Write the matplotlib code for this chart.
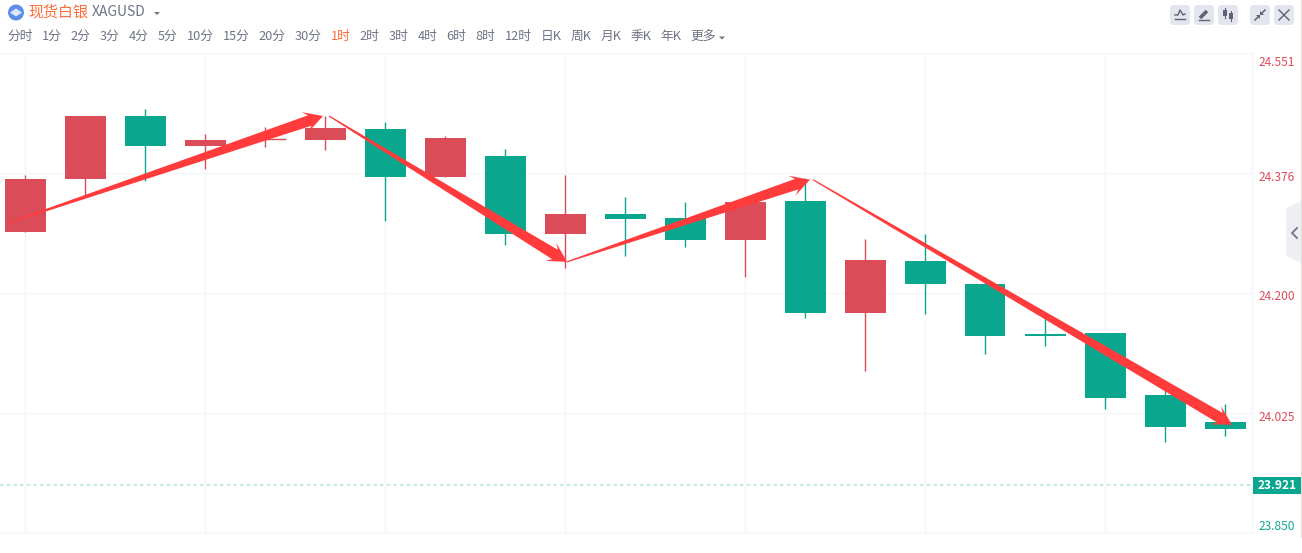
import numpy as np
import matplotlib
matplotlib.use("Agg")
import matplotlib.pyplot as plt
from matplotlib.patches import Polygon, Rectangle, Circle, FancyBboxPatch
from matplotlib.transforms import ScaledTranslation, IdentityTransform

plt.rcParams['font.family'] = ['Noto Sans CJK SC', 'DejaVu Sans']

# ---------- data ----------
opens  = [24.290, 24.367, 24.459, 24.415, 24.425, 24.424, 24.440, 24.370, 24.401, 24.287, 24.316,
          24.310, 24.278, 24.335, 24.171, 24.247, 24.214, 24.141, 24.142, 24.052, 24.012]
closes = [24.367, 24.459, 24.415, 24.424, 24.424, 24.441, 24.370, 24.427, 24.287, 24.316, 24.309,
          24.278, 24.333, 24.171, 24.249, 24.214, 24.138, 24.138, 24.047, 24.005, 24.002]
highs  = [24.373, 24.459, 24.469, 24.433, 24.443, 24.459, 24.450, 24.430, 24.411, 24.373, 24.341,
          24.333, 24.341, 24.368, 24.279, 24.287, 24.224, 24.164, 24.142, 24.059, 24.038]
lows   = [24.290, 24.341, 24.364, 24.382, 24.414, 24.409, 24.306, 24.370, 24.271, 24.237, 24.255,
          24.268, 24.224, 24.164, 24.087, 24.170, 24.111, 24.123, 24.031, 23.983, 23.992]
doji_up = [4]  # thin candle drawn in the rising colour

price_ticks = [24.551, 24.376, 24.200, 24.025, 23.850]
price_labels = ['24.551', '24.376', '24.200', '24.025', '23.850']
label_shift_px = [-8, -3, -2, -3, 8]
last_price = 23.921
grid_candles = [0, 3, 6, 9, 12, 15, 18]

# arrows: (start index, start price, end index, end price)
arrows = [(-0.27, 24.303, 4.967, 24.459),
          (5.067, 24.459, 9.033, 24.246),
          (9.033, 24.246, 13.083, 24.366),
          (13.133, 24.366, 20.117, 24.008)]

title_cn = '现货白银'
title_code = 'XAGUSD'
tabs = ['分时', '1分', '2分', '3分', '4分', '5分', '10分', '15分', '20分', '30分', '1时', '2时', '3时',
        '4时', '6时', '8时', '12时', '日K', '周K', '月K', '季K', '年K', '更多']
tab_x = [7.5, 41.5, 70.5, 99.5, 128.5, 157.5, 186.5, 222.5, 258.5, 294.5, 330.5, 359.5, 388.5,
         417.5, 446.5, 475.5, 504.5, 540.5, 570.5, 600.5, 630.5, 660.5, 690.5]
active_tab = '1时'

RED, GREEN = '#DB4C59', '#0AA78E'
ARROW = '#FF3B3B'
GRID = '#F5F6F8'
GRAY = '#6F7486'
ORANGE = '#FF6B3A'
W, H = 1302, 553

fig = plt.figure(figsize=(W / 100, H / 100), dpi=100, facecolor='white')

# ---------- price chart ----------
ax = fig.add_axes([0, (H - 533) / H, 1252 / W, 480 / H])
ax.set_xlim(-25 / 60, (1252 - 25) / 60)
ax.set_ylim(23.850, 24.551)
ax.set_facecolor('white')
for s in ax.spines.values():
    s.set_color(GRID)
    s.set_linewidth(1)
ax.spines['left'].set_visible(False)
ax.set_xticks(grid_candles)
ax.set_xticklabels([])
ax.tick_params(axis='x', length=0)
ax.yaxis.tick_right()
ax.set_yticks(price_ticks)
ax.set_yticklabels(price_labels, fontsize=8.6)
ax.tick_params(axis='y', length=0, pad=4.5)
ax.grid(True, color=GRID, lw=1)
ax.set_axisbelow(True)
for lab, p, dy in zip(ax.get_yticklabels(), price_ticks, label_shift_px):
    lab.set_color(RED if p > last_price else '#12A88F')
    lab.set_transform(lab.get_transform() + ScaledTranslation(0, dy / 100, fig.dpi_scale_trans))

body_w = 41 / 60
for i, (o, c, h, l) in enumerate(zip(opens, closes, highs, lows)):
    col = RED if (c > o or i in doji_up) else GREEN
    ax.vlines(i, l, h, color=col, lw=1, zorder=2)
    top, bot = max(o, c), min(o, c)
    if i in doji_up:
        ax.hlines(top, i - body_w / 2, i + body_w / 2, color=col, lw=1, zorder=3)
    else:
        ax.add_patch(Rectangle((i - body_w / 2, bot), body_w, top - bot, fc=col, ec='none', zorder=3))

ax.hlines(last_price, -25 / 60, (1252 - 25) / 60, color='#BDE6DE', lw=1.2, ls=(0, (2.2, 1.8)), zorder=1,
          transform=ax.transData + ScaledTranslation(0, -0.8 / 100, fig.dpi_scale_trans))

# ---------- hand-drawn arrows ----------
fig.canvas.draw()
def arrow_poly(x0, y0, x1, y1):
    a = ax.transData.transform((x0, y0))
    b = ax.transData.transform((x1, y1))
    u = (b - a) / np.hypot(*(b - a))
    n = np.array([-u[1], u[0]])
    neck = b - u * 14
    base = b - u * 19
    return [a + n * 0.6, neck + n * 5.5, base + n * 10.5, b, base - n * 10.5, neck - n * 5.5, a - n * 0.6]

for x0, y0, x1, y1 in arrows:
    fig.add_artist(Polygon(arrow_poly(x0, y0, x1, y1), closed=True, fc=ARROW, ec='none',
                           transform=IdentityTransform(), zorder=6))

# ---------- page chrome (pixel coordinates) ----------
ui = fig.add_axes([0, 0, 1, 1], zorder=5)
ui.set_xlim(0, W)
ui.set_ylim(H, 0)
ui.axis('off')
ui.patch.set_alpha(0)

ui.add_patch(Circle((16, 12.5), 8, fc='#5E8FE8', ec='none'))
ui.add_patch(Polygon([(10, 12.5), (16, 8.5), (22, 12.5), (16, 16.5)], fc='#DCE7FA', ec='none'))
ui.text(28.5, 12.5, title_cn, fontsize=10.8, color=ORANGE, va='center', ha='left')
ui.text(92, 12.5, title_code, fontsize=10, color=GRAY, va='center', ha='left')
ui.add_patch(Polygon([(154, 12), (160, 12), (157, 15)], fc=GRAY, ec='none'))

for t, x in zip(tabs, tab_x):
    ui.text(x, 36.5, t, fontsize=9.2, color=ORANGE if t == active_tab else GRAY, va='center', ha='left')
ui.add_patch(Polygon([(719, 36.5), (725, 36.5), (722, 39.5)], fc=GRAY, ec='none'))

# toolbar
for x in [1170, 1194, 1218, 1250, 1274]:
    ui.add_patch(FancyBboxPatch((x + 2, 7), 16, 16, boxstyle='round,pad=2,rounding_size=3',
                                fc='#E4E6EE', ec='none'))
ICON = '#5F6474'
ui.plot([1175, 1185], [19, 19], color=ICON, lw=1)
ui.plot([1175, 1178, 1180, 1183, 1185], [15, 15, 10, 15, 14], color=ICON, lw=1)
ui.plot([1199, 1209], [20, 20], color=ICON, lw=1)
ui.plot([1200, 1207], [18, 11], color=ICON, lw=2.6, solid_capstyle='butt')
for x, y0, y1 in [(1225, 9, 17), (1231, 12, 20)]:
    ui.add_patch(Rectangle((x - 2, y0 + 1), 4, y1 - y0 - 2, fc=ICON, ec='none'))
    ui.plot([x, x], [y0 - 1, y1 + 1], color=ICON, lw=0.8)
ui.plot([1255, 1259], [20, 16], color=ICON, lw=1.1)
ui.plot([1261, 1265], [14, 10], color=ICON, lw=1.1)
ui.add_patch(Polygon([(1256, 15), (1260, 15), (1260, 19)], fc=ICON, ec='none'))
ui.add_patch(Polygon([(1260, 11), (1260, 15), (1264, 15)], fc=ICON, ec='none'))
ui.plot([1279, 1289], [10, 20], color=ICON, lw=1)
ui.plot([1279, 1289], [20, 10], color=ICON, lw=1)

# last-price tag
ui.add_patch(Rectangle((1253, 476.5), 48, 17.5, fc=GREEN, ec='none'))
ui.text(1277.5, 485.5, f'{last_price:.3f}', fontsize=8.6, color='white', va='center', ha='center', fontweight='bold')

# side handle and page edge
ui.add_patch(Polygon([(1301, 201), (1286, 208), (1286, 256), (1301, 263)], fc='#EEEFF3', ec='none'))
ui.plot([1297, 1292, 1297], [228, 233, 238], color=GRAY, lw=1.3)
ui.plot([1301.5, 1301.5], [0, 537], color='#A85A2A', lw=1)

fig.savefig('out.png', dpi=100, facecolor='white')
